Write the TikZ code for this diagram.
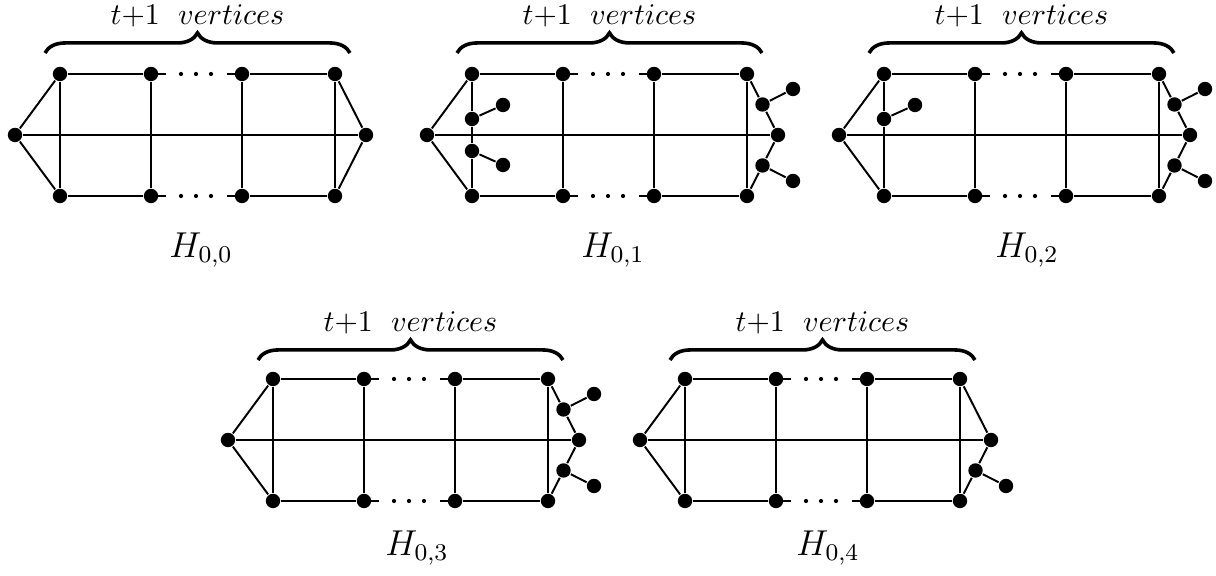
\documentclass[tikz,border=0pt]{standalone}
\usepackage{amsmath}
\usepackage{tikz}
\usetikzlibrary{decorations.pathreplacing}

\begin{document}
\begin{tikzpicture}[
    x=0.3333pt, y=-0.3333pt, line width=0.65pt,
    vtx/.style={circle, fill=black, inner sep=0pt, minimum size=4.8pt},
    gaprow/.style={dash pattern=on 5pt off 20.33pt on 5pt,
                   postaction={draw, line width=1.4pt, line cap=round,
                   dash pattern=on 0pt off 10pt on 0pt off 5pt on 0pt off 5pt on 0pt off 20pt}},
    brc/.style={decorate, decoration={brace, amplitude=6.7pt}, line width=1.2pt},
    glabel/.style={font=\large},
]
\useasboundingbox (0,0) rectangle (1216,576);

% H_{0,0}
\begin{scope}[shift={(15,135)}]
\node[vtx] (aL) at (0,0) {};
\node[vtx] (a1t) at (45,-61) {};
\node[vtx] (a2t) at (136,-61) {};
\node[vtx] (a3t) at (227,-61) {};
\node[vtx] (a4t) at (320,-61) {};
\node[vtx] (a1b) at (45,61) {};
\node[vtx] (a2b) at (136,61) {};
\node[vtx] (a3b) at (227,61) {};
\node[vtx] (a4b) at (320,61) {};
\node[vtx] (aR) at (351,0) {};
\draw (aL) -- (a1t) -- (a2t) (a3t) -- (a4t) -- (aR) -- (a4b) -- (a3b) (a2b) -- (a1b) -- (aL) -- (aR);
\draw (a1t) -- (a1b) (a2t) -- (a2b) (a3t) -- (a3b) (a4t) -- (a4b);
\draw[gaprow] (a2t.center) -- (a3t.center) (a2b.center) -- (a3b.center);
\draw[brc] (30,-82) -- (335,-82) node[midway, yshift=12.5pt] (atx) {$t{+}1\ \;vertices$};
\node[glabel] (aH) at (186,115) {$H_{0,0}$};
\end{scope}

% H_{0,1}
\begin{scope}[shift={(427,135)}]
\node[vtx] (bL) at (0,0) {};
\node[vtx] (b1t) at (45,-61) {};
\node[vtx] (b2t) at (136,-61) {};
\node[vtx] (b3t) at (227,-61) {};
\node[vtx] (b4t) at (320,-61) {};
\node[vtx] (b1b) at (45,61) {};
\node[vtx] (b2b) at (136,61) {};
\node[vtx] (b3b) at (227,61) {};
\node[vtx] (b4b) at (320,61) {};
\node[vtx] (bR) at (351,0) {};
\node[vtx] (b5) at (45,-16) {};
\node[vtx] (b6) at (45,16) {};
\node[vtx] (b7) at (76,-30) {};
\node[vtx] (b8) at (76,30) {};
\node[vtx] (b9) at (335.5,-30.5) {};
\node[vtx] (b10) at (335.5,30.5) {};
\node[vtx] (b11) at (366,-46) {};
\node[vtx] (b12) at (366,46) {};
\draw (bL) -- (b1t) -- (b2t) (b3t) -- (b4t) -- (b9) -- (bR) -- (b10) -- (b4b) -- (b3b) (b2b) -- (b1b) -- (bL) -- (bR);
\draw (b1t) -- (b5) -- (b6) -- (b1b) (b2t) -- (b2b) (b3t) -- (b3b) (b4t) -- (b4b);
\draw (b5) -- (b7) (b6) -- (b8) (b9) -- (b11) (b10) -- (b12);
\draw[gaprow] (b2t.center) -- (b3t.center) (b2b.center) -- (b3b.center);
\draw[brc] (30,-82) -- (335,-82) node[midway, yshift=12.5pt] (btx) {$t{+}1\ \;vertices$};
\node[glabel] (bH) at (186,115) {$H_{0,1}$};
\end{scope}

% H_{0,2}
\begin{scope}[shift={(839,135)}]
\node[vtx] (cL) at (0,0) {};
\node[vtx] (c1t) at (45,-61) {};
\node[vtx] (c2t) at (136,-61) {};
\node[vtx] (c3t) at (227,-61) {};
\node[vtx] (c4t) at (320,-61) {};
\node[vtx] (c1b) at (45,61) {};
\node[vtx] (c2b) at (136,61) {};
\node[vtx] (c3b) at (227,61) {};
\node[vtx] (c4b) at (320,61) {};
\node[vtx] (cR) at (351,0) {};
\node[vtx] (c5) at (45,-16) {};
\node[vtx] (c7) at (76,-30) {};
\node[vtx] (c9) at (335.5,-30.5) {};
\node[vtx] (c10) at (335.5,30.5) {};
\node[vtx] (c11) at (366,-46) {};
\node[vtx] (c12) at (366,46) {};
\draw (cL) -- (c1t) -- (c2t) (c3t) -- (c4t) -- (c9) -- (cR) -- (c10) -- (c4b) -- (c3b) (c2b) -- (c1b) -- (cL) -- (cR);
\draw (c1t) -- (c5) -- (c1b) (c2t) -- (c2b) (c3t) -- (c3b) (c4t) -- (c4b);
\draw (c5) -- (c7) (c9) -- (c11) (c10) -- (c12);
\draw[gaprow] (c2t.center) -- (c3t.center) (c2b.center) -- (c3b.center);
\draw[brc] (30,-82) -- (335,-82) node[midway, yshift=12.5pt] (ctx) {$t{+}1\ \;vertices$};
\node[glabel] (cH) at (188,115) {$H_{0,2}$};
\end{scope}

% H_{0,3}
\begin{scope}[shift={(228,440)}]
\node[vtx] (dL) at (0,0) {};
\node[vtx] (d1t) at (45,-61) {};
\node[vtx] (d2t) at (136,-61) {};
\node[vtx] (d3t) at (227,-61) {};
\node[vtx] (d4t) at (320,-61) {};
\node[vtx] (d1b) at (45,61) {};
\node[vtx] (d2b) at (136,61) {};
\node[vtx] (d3b) at (227,61) {};
\node[vtx] (d4b) at (320,61) {};
\node[vtx] (dR) at (351,0) {};
\node[vtx] (d9) at (335.5,-30.5) {};
\node[vtx] (d10) at (335.5,30.5) {};
\node[vtx] (d11) at (366,-46) {};
\node[vtx] (d12) at (366,46) {};
\draw (dL) -- (d1t) -- (d2t) (d3t) -- (d4t) -- (d9) -- (dR) -- (d10) -- (d4b) -- (d3b) (d2b) -- (d1b) -- (dL) -- (dR);
\draw (d1t) -- (d1b) (d2t) -- (d2b) (d3t) -- (d3b) (d4t) -- (d4b);
\draw (d9) -- (d11) (d10) -- (d12);
\draw[gaprow] (d2t.center) -- (d3t.center) (d2b.center) -- (d3b.center);
\draw[brc] (30,-80) -- (335,-80) node[midway, yshift=12.5pt] (dtx) {$t{+}1\ \;vertices$};
\node[glabel] (dH) at (189,108) {$H_{0,3}$};
\end{scope}

% H_{0,4}
\begin{scope}[shift={(640,440)}]
\node[vtx] (eL) at (0,0) {};
\node[vtx] (e1t) at (45,-61) {};
\node[vtx] (e2t) at (136,-61) {};
\node[vtx] (e3t) at (227,-61) {};
\node[vtx] (e4t) at (320,-61) {};
\node[vtx] (e1b) at (45,61) {};
\node[vtx] (e2b) at (136,61) {};
\node[vtx] (e3b) at (227,61) {};
\node[vtx] (e4b) at (320,61) {};
\node[vtx] (eR) at (351,0) {};
\node[vtx] (e10) at (335.5,30.5) {};
\node[vtx] (e12) at (366,46) {};
\draw (eL) -- (e1t) -- (e2t) (e3t) -- (e4t) -- (eR) -- (e10) -- (e4b) -- (e3b) (e2b) -- (e1b) -- (eL) -- (eR);
\draw (e1t) -- (e1b) (e2t) -- (e2b) (e3t) -- (e3b) (e4t) -- (e4b);
\draw (e10) -- (e12);
\draw[gaprow] (e2t.center) -- (e3t.center) (e2b.center) -- (e3b.center);
\draw[brc] (30,-80) -- (335,-80) node[midway, yshift=12.5pt] (etx) {$t{+}1\ \;vertices$};
\node[glabel] (eH) at (188,108) {$H_{0,4}$};
\end{scope}

\end{tikzpicture}
\end{document}
